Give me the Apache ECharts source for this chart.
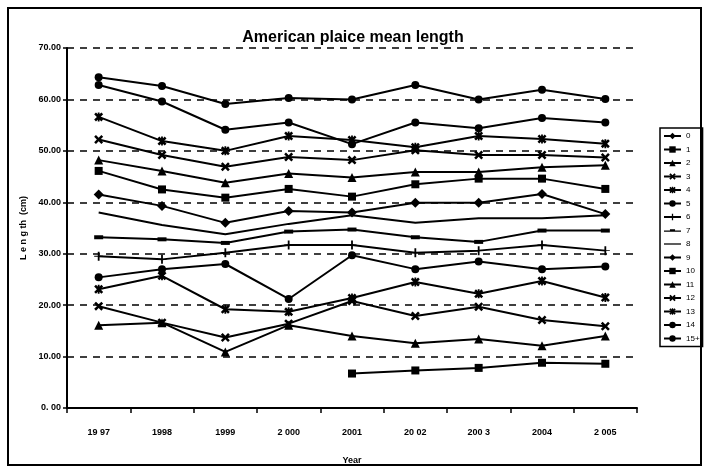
<!DOCTYPE html>
<html>
<head>
<meta charset="utf-8">
<script src="https://cdn.jsdelivr.net/npm/echarts@6/dist/echarts.min.js"></script>
<style>
  html, body { margin: 0; padding: 0; background: #fff; }
  #chart { width: 706px; height: 470px; }
</style>
</head>
<body>
<div id="chart"></div>
<script>
const years = ['19 97', '1998', '1999', '2 000', '2001', '20 02', '200 3', '2004', '2 005'];
const ageNames = ['0', '1', '2', '3', '4', '5', '6', '7', '8', '9', '10', '11', '12', '13', '14', '15+'];

// mean length (cm) by age group, 1997-2005
const age0 = [null, null, null, null, null, null, null, null, null];
const age1 = [null, null, null, null, 6.7, 7.3, 7.8, 8.8, 8.6];
const age2 = [16.1, 16.6, 10.9, 16.1, 14.0, 12.6, 13.4, 12.1, 14.0];
const age3 = [19.8, 16.6, 13.7, 16.4, 20.8, 17.9, 19.7, 17.1, 15.9];
const age4 = [23.1, 25.7, 19.2, 18.7, 21.4, 24.5, 22.2, 24.7, 21.5];
const age5 = [25.4, 27.0, 28.0, 21.2, 29.7, 27.0, 28.5, 27.0, 27.5];
const age6 = [29.5, 28.9, 30.2, 31.7, 31.7, 30.2, 30.6, 31.7, 30.6];
const age7 = [33.2, 32.8, 32.1, 34.3, 34.7, 33.2, 32.3, 34.5, 34.5];
const age8 = [38.0, 35.6, 33.8, 35.8, 37.5, 36.0, 36.9, 36.9, 37.5];
const age9 = [41.5, 39.3, 36.0, 38.3, 38.0, 39.9, 39.9, 41.6, 37.7];
const age10 = [46.1, 42.5, 40.9, 42.6, 41.1, 43.5, 44.6, 44.6, 42.6];
const age11 = [48.2, 46.1, 43.8, 45.6, 44.8, 45.9, 45.9, 46.8, 47.2];
const age12 = [52.2, 49.2, 46.9, 48.8, 48.2, 50.1, 49.2, 49.2, 48.7];
const age13 = [56.6, 51.9, 50.0, 52.9, 52.1, 50.7, 52.9, 52.3, 51.4];
const age14 = [62.8, 59.6, 54.1, 55.5, 51.3, 55.5, 54.4, 56.4, 55.5];
const age15 = [64.3, 62.6, 59.1, 60.3, 60.0, 62.8, 60.0, 61.9, 60.1];

const ageData = [age0, age1, age2, age3, age4, age5, age6, age7, age8,
  age9, age10, age11, age12, age13, age14, age15];

// excel-like marker shapes (paths get stretched to their box, so keep them square)
const xMark = 'path://M2,0L5,3L8,0L10,2L7,5L10,8L8,10L5,7L2,10L0,8L3,5L0,2Z';
const starMark = 'path://M2,0L5,3L8,0L10,2L7,5L10,8L8,10L5,7L2,10L0,8L3,5L0,2ZM4,0H6V10H4Z';
const plusMark = 'path://M4,0H6V4.5H10V5.5H6V10H4V5.5H0V4.5H4Z';
const dashMark = 'path://M0,0H10V10H0Z';
const markers = [
  ['diamond', 10], ['rect', 8], ['triangle', 9], [xMark, 9], [starMark, 9],
  ['circle', 8], [plusMark, 9], [dashMark, [9, 4]], ['circle', 0],
  ['diamond', 10], ['rect', 8], ['triangle', 9], [xMark, 9], [starMark, 9],
  ['circle', 8], ['circle', 8],
];

// legend icons for the two series whose default icon comes out wrong
const legendIcons = {
  '7': 'path://M0,3.5H7V2H13V3.5H20V5H0Z',
  '8': 'path://M0,3.5H20V5H0Z',
};

const font = "'Liberation Sans Narrow', 'Liberation Sans', Arial, sans-serif";

const chart = echarts.init(document.getElementById('chart'), null, { renderer: 'canvas' });

const series = ageNames.map((name, i) => ({
  name: name,
  type: 'line',
  data: ageData[i],
  symbol: markers[i][0],
  symbolSize: markers[i][1],
  lineStyle: { color: '#000', width: 2 },
  itemStyle: { color: '#000' },
  emphasis: { disabled: true },
  animation: false,
}));

const legendData = ageNames.map((name) =>
  legendIcons[name] ? { name: name, icon: legendIcons[name] } : { name: name });

chart.setOption({
  backgroundColor: '#fff',
  animation: false,
  title: {
    text: 'American plaice mean length',
    left: 'center',
    top: 29,
    backgroundColor: '#fff',
    padding: [1, 3],
    textStyle: { fontFamily: font, fontSize: 16, fontWeight: 'bold', color: '#000' },
  },
  legend: {
    orient: 'vertical',
    left: 660,
    top: 128,
    itemWidth: 17,
    itemHeight: 8,
    itemGap: 5.5,
    padding: [4, 3, 4, 3],
    borderColor: '#000',
    borderWidth: 1.5,
    textStyle: { fontFamily: font, fontSize: 8, color: '#000' },
    data: legendData,
  },
  grid: { left: 67, right: 69, top: 48, bottom: 62 },
  xAxis: {
    type: 'category',
    data: years,
    boundaryGap: true,
    axisLine: { lineStyle: { color: '#000', width: 2 } },
    axisTick: { show: true, length: 5, lineStyle: { color: '#000', width: 1.5 } },
    axisLabel: { color: '#000', fontFamily: font, fontSize: 9, fontWeight: 'bold', margin: 20 },
    name: 'Year',
    nameLocation: 'middle',
    nameGap: 48,
    nameTextStyle: { color: '#000', fontFamily: font, fontSize: 9, fontWeight: 'bold' },
  },
  yAxis: {
    type: 'value',
    min: 0,
    max: 70,
    interval: 10,
    axisLine: { show: true, lineStyle: { color: '#000', width: 2 } },
    axisTick: { show: true, length: 4, lineStyle: { color: '#000', width: 1.5 } },
    axisLabel: {
      color: '#000', fontFamily: font, fontSize: 9, fontWeight: 'bold', margin: 6,
      formatter: (v) => v === 0 ? '0. 00' : v.toFixed(2),
    },
    splitLine: { show: true, lineStyle: { color: '#000', width: 1.5, type: [7, 6] } },
    name: 'L e n g th  (cm)',
    nameLocation: 'middle',
    nameGap: 37,
    nameRotate: 90,
    nameTextStyle: { color: '#000', fontFamily: font, fontSize: 9, fontWeight: 'bold' },
  },
  graphic: [{
    type: 'rect',
    shape: { x: 8, y: 8, width: 693, height: 457 },
    style: { fill: 'none', stroke: '#000', lineWidth: 2 },
    silent: true,
    z: 100,
  }],
  series: series,
});
</script>
</body>
</html>
